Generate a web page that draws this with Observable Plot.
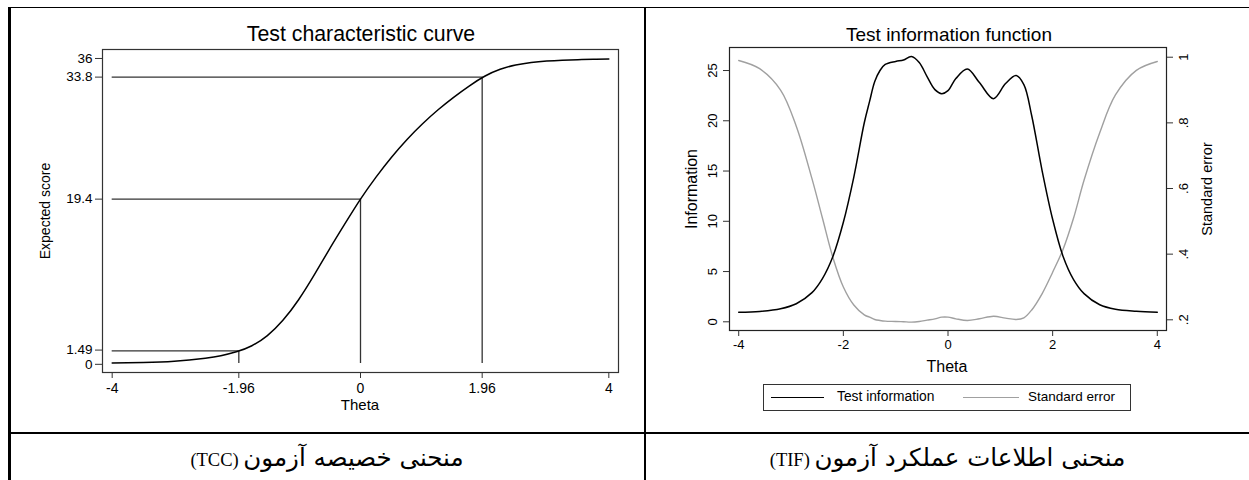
<!DOCTYPE html>
<html><head><meta charset="utf-8">
<script src="https://cdn.jsdelivr.net/npm/d3@7"></script>
<script src="https://cdn.jsdelivr.net/npm/@observablehq/plot@0.6"></script>
<style>
html,body{margin:0;padding:0;background:#fff;}
body{width:1249px;height:480px;overflow:hidden;position:relative;font-family:"Liberation Sans",Arial,Helvetica,sans-serif;color:#000;}
.abs{position:absolute;}
.ttl{position:absolute;white-space:nowrap;line-height:1;text-align:center;transform:translateX(-50%);}
.rot{position:absolute;white-space:nowrap;line-height:1;transform:translate(-50%,-50%) rotate(-90deg);}
.cap{position:absolute;text-align:center;font-family:"Liberation Serif","DejaVu Serif","DejaVu Sans",serif;font-size:18.5px;line-height:1;white-space:nowrap;}
.cap .fa{font-family:"DejaVu Sans",sans-serif;font-size:24.5px;}
.hl{position:absolute;background:#000;}
#p1,#p2a,#p2b{position:absolute;top:0;}
svg{overflow:visible;}
</style></head><body>
<script>
// ---------- Test characteristic curve (TCC) ----------
const tccTheta = [-4, -3.5, -3, -2.5, -2.25, -2, -1.75, -1.5, -1.25, -1, -0.75, -0.5, -0.25, 0, 0.25, 0.5, 0.75, 1, 1.25, 1.5, 1.75, 2, 2.25, 2.5, 2.75, 3, 3.25, 3.5, 3.75, 4];
const tccScore = [0.05, 0.12, 0.27, 0.63, 0.92, 1.38, 2.1, 3.3, 5.1, 7.5, 10.4, 13.5, 16.5, 19.4, 22.0, 24.35, 26.45, 28.3, 29.95, 31.42, 32.75, 33.9, 34.72, 35.23, 35.53, 35.7, 35.8, 35.86, 35.9, 35.93];
const tccRefTheta = [-1.96, 0, 1.96];
const tccRefScore = [1.49, 19.4, 33.8];
const tccXTicks = [-4, -1.96, 0, 1.96, 4];
const tccYTicks = [0, 1.49, 19.4, 33.8, 36];

// ---------- Test information function (TIF) ----------
const tifTheta = [-4, -3.6, -3.2, -2.9, -2.6, -2.4, -2.2, -2.0, -1.8, -1.6, -1.5, -1.4, -1.3, -1.2, -1.0, -0.85, -0.7, -0.55, -0.4, -0.25, -0.12, 0, 0.15, 0.37, 0.6, 0.87, 1.1, 1.3, 1.45, 1.6, 1.8, 2.0, 2.2, 2.4, 2.6, 2.9, 3.2, 3.6, 4];
const tifInfo = [0.95, 1.03, 1.3, 1.8, 2.9, 4.3, 6.5, 9.9, 14.4, 19.8, 21.9, 23.9, 25.0, 25.6, 25.9, 26.05, 26.4, 25.8, 24.4, 23.1, 22.7, 23.0, 24.2, 25.15, 23.8, 22.2, 23.7, 24.5, 23.6, 20.5, 15.0, 10.2, 6.5, 4.2, 2.8, 1.7, 1.25, 1.05, 0.95];
const tifSE = [0.99, 0.965, 0.9, 0.79, 0.63, 0.51, 0.39, 0.30, 0.245, 0.215, 0.208, 0.201, 0.198, 0.196, 0.195, 0.194, 0.193, 0.195, 0.199, 0.203, 0.208, 0.208, 0.203, 0.198, 0.203, 0.211, 0.205, 0.201, 0.206, 0.23, 0.28, 0.345, 0.415, 0.51, 0.625, 0.77, 0.885, 0.96, 0.987];
const tifXTicks = [-4, -2, 0, 2, 4];
const tifInfoTicks = [0, 5, 10, 15, 20, 25];
const tifSETicks = [0.2, 0.4, 0.6, 0.8, 1];

const font = "'Liberation Sans', Arial, Helvetica, sans-serif";
const fmt = d => String(d);
const fmtSE = d => String(d).replace(/^0\./, ".");

// ---- left chart
const tcc = tccTheta.map((t, i) => ({theta: t, score: tccScore[i]}));
const refs = tccRefTheta.map((t, i) => ({theta: t, score: tccRefScore[i]}));
const yAx = {tickFormat: fmt, tickSize: 7, tickPadding: 3, label: null, fontSize: 13.5, stroke: "#333"};
const p1 = Plot.plot({
  width: 645, height: 433,
  marginLeft: 102, marginRight: 27, marginTop: 49, marginBottom: 61,
  style: {fontFamily: font, fontSize: "14px", background: "transparent", color: "#000"},
  x: {domain: [-4.156, 4.156]},
  y: {domain: [-1.06, 37.06]},
  marks: [
    Plot.ruleY(refs, {y: "score", x1: tccXTicks[0], x2: "theta", stroke: "#333", strokeWidth: 1.3}),
    Plot.ruleX(refs, {x: "theta", y1: tccYTicks[0], y2: "score", stroke: "#333", strokeWidth: 1.3}),
    Plot.line(tcc, {x: "theta", y: "score", curve: "natural", stroke: "#000", strokeWidth: 1.5}),
    Plot.frame({stroke: "#333", strokeWidth: 1.2}),
    Plot.axisX({ticks: tccXTicks, tickFormat: fmt, tickSize: 6, tickPadding: 5, label: null, fontSize: 14, stroke: "#333"}),
    Plot.axisY({...yAx, ticks: tccYTicks.slice(2)}),
    Plot.axisY({...yAx, ticks: [tccYTicks[1]], dy: -0.8}),
    Plot.axisY({...yAx, ticks: [tccYTicks[0]], dy: 0.8})
  ]
});
p1.id = "p1"; p1.style.left = "0px";
document.body.appendChild(p1);

// ---- right chart (two overlaid plots sharing x, each with its own y scale)
const tif = tifTheta.map((t, i) => ({theta: t, info: tifInfo[i], se: tifSE[i]}));
const common = {
  width: 604, height: 433,
  marginLeft: 84, marginRight: 83, marginTop: 47, marginBottom: 103,
  style: {fontFamily: font, fontSize: "13px", background: "transparent", color: "#000"}
};
const p2a = Plot.plot({
  ...common,
  x: {domain: [-4.176, 4.176]},
  y: {domain: [-0.865, 27.29]},
  marks: [
    Plot.line(tif, {x: "theta", y: "info", curve: "catmull-rom", stroke: "#000", strokeWidth: 1.5}),
    Plot.frame({stroke: "#222", strokeWidth: 1.2}),
    Plot.axisX({ticks: tifXTicks, tickFormat: fmt, tickSize: 6, tickPadding: 3, label: null, fontSize: 13, stroke: "#333"}),
    Plot.axisY({ticks: tifInfoTicks, tickFormat: fmt, tickSize: 6, tickPadding: 7, tickRotate: -90, label: null, fontSize: 13, stroke: "#333"})
  ]
});
const p2b = Plot.plot({
  ...common,
  x: {domain: [-4.176, 4.176], axis: null},
  y: {domain: [0.1674, 1.0296], axis: null},
  marks: [
    Plot.line(tif, {x: "theta", y: "se", curve: "catmull-rom", stroke: "#a0a0a0", strokeWidth: 1.4}),
    Plot.axisY({anchor: "right", ticks: tifSETicks, tickFormat: fmtSE, tickSize: 6, tickPadding: 6, tickRotate: -90, lineAnchor: "top", label: null, fontSize: 13, stroke: "#333"})
  ]
});
p2a.id = "p2a"; p2a.style.left = "645px";
p2b.id = "p2b"; p2b.style.left = "645px";
document.body.appendChild(p2b);
document.body.appendChild(p2a);

// ---- text, titles, legend, table lines
function add(html) { document.body.insertAdjacentHTML("beforeend", html); }
add(`<div class="ttl" style="left:361px;top:24px;font-size:21.3px;">Test characteristic curve</div>`);
add(`<div class="ttl" style="left:949px;top:25px;font-size:19px;">Test information function</div>`);
add(`<div class="ttl" style="left:360px;top:397px;font-size:15px;">Theta</div>`);
add(`<div class="ttl" style="left:947px;top:359px;font-size:16px;">Theta</div>`);
add(`<div class="rot" style="left:45px;top:211px;font-size:14px;">Expected score</div>`);
add(`<div class="rot" style="left:692px;top:189px;font-size:16px;">Information</div>`);
add(`<div class="rot" style="left:1207px;top:189px;font-size:14.5px;">Standard error</div>`);
// legend
add(`<div class="abs" style="left:763px;top:384px;width:366px;height:25px;border:1px solid #333;"></div>`);
add(`<div class="abs" style="left:771px;top:397px;width:53px;height:0;border-top:1.5px solid #000;"></div>`);
add(`<div class="abs" style="left:837px;top:390px;font-size:13.8px;line-height:1;white-space:nowrap;">Test information</div>`);
add(`<div class="abs" style="left:963px;top:397px;width:56px;height:0;border-top:1.4px solid #a0a0a0;"></div>`);
add(`<div class="abs" style="left:1028px;top:390px;font-size:13.5px;line-height:1;white-space:nowrap;">Standard error</div>`);
// table lines
add(`<div class="hl" style="left:9px;top:6.5px;width:1240px;height:1.5px;"></div>`);
add(`<div class="hl" style="left:8px;top:7px;width:2.5px;height:473px;"></div>`);
add(`<div class="hl" style="left:643.5px;top:7px;width:2.5px;height:473px;"></div>`);
add(`<div class="hl" style="left:9px;top:431.8px;width:1240px;height:2.4px;"></div>`);
// captions
add(`<div class="cap" dir="rtl" style="left:10px;width:634px;top:446px;"><span class="fa">منحنی خصیصه آزمون</span> (TCC)</div>`);
add(`<div class="cap" dir="rtl" style="left:646px;width:603px;top:446px;"><span class="fa">منحنی اطلاعات عملکرد آزمون</span> (TIF)</div>`);
</script>
</body></html>
